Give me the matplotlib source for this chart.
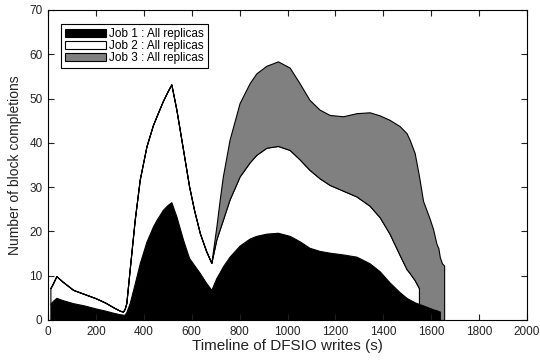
import matplotlib.pyplot as plt
import numpy as np

plt.rcParams['font.family'] = ['Liberation Sans', 'DejaVu Sans']

# timeline (s); repeated x values give the vertical drops at the end of each job
t = [10, 20, 35, 60, 105, 150, 200, 240, 275, 300, 313, 320, 327, 341, 362,
     383, 411, 438, 453, 480, 500, 515, 536, 564, 589, 610, 634, 660, 682,
     703, 717, 730, 758, 800, 842, 870, 912, 960, 1009, 1050, 1092, 1134,
     1176, 1232, 1288, 1343, 1385, 1426, 1468, 1497, 1510, 1531, 1549, 1549,
     1566, 1594, 1608, 1622, 1630, 1636, 1636, 1645, 1654, 1654]

# top of each stacked layer
top_job1 = [3.6, 4.3, 5.0, 4.5, 3.8, 3.3, 2.6, 2.1, 1.6, 1.3, 1.2, 1.2, 1.8,
            3.8, 8.2, 12.8, 17.7, 21.1, 22.6, 24.9, 26.0, 26.6, 23.4, 18.1,
            14.0, 12.4, 10.6, 8.4, 6.8,
            9.5, 10.8, 12.1, 14.3, 16.8, 18.4, 19.0, 19.5, 19.7, 19.0, 17.8,
            16.3, 15.6, 15.2, 14.8, 14.3, 12.8, 11.0, 8.5, 6.3, 5.0, 4.6, 4.0,
            3.6, 3.6, 3.3, 2.7, 2.4, 2.2, 2.0, 1.9, 0, 0, 0, 0]
top_job2 = [7.2, 8.2, 9.9, 8.7, 6.8, 5.9, 4.9, 3.9, 2.8, 2.1, 1.9, 2.5, 3.8,
            11.4, 22.6, 31.7, 39.2, 44.0, 46.0, 49.5, 51.7, 53.2, 47.5, 38.4,
            30.2, 24.8, 19.6, 15.6, 12.9,
            18.2, 20.5, 22.6, 27.2, 32.4, 35.6, 37.3, 38.9, 39.3, 38.4, 36.3,
            33.9, 32.0, 30.5, 29.2, 27.9, 25.8, 23.2, 19.5, 14.7, 11.5, 10.6,
            9.0, 7.2, 3.6, 3.3, 2.7, 2.4, 2.2, 2.0, 1.9, 0, 0, 0, 0]
top_job3 = [7.2, 8.2, 9.9, 8.7, 6.8, 5.9, 4.9, 3.9, 2.8, 2.1, 1.9, 2.5, 3.8,
            11.4, 22.6, 31.7, 39.2, 44.0, 46.0, 49.5, 51.7, 53.2, 47.5, 38.4,
            30.2, 24.8, 19.6, 15.6, 12.9,
            21.1, 27.2, 32.4, 40.7, 49.0, 53.5, 55.7, 57.4, 58.4, 57.0, 53.5,
            49.7, 47.5, 46.3, 46.0, 46.7, 46.9, 46.2, 45.2, 43.8, 42.2, 40.7,
            37.7, 32.5, 32.5, 26.9, 22.8, 20.5, 17.2, 16.2, 14.2, 14.2, 12.8,
            12.3, 0]

labels = ['Job 1 : All replicas', 'Job 2 : All replicas', 'Job 3 : All replicas']

x = np.array(t)
job1 = np.array(top_job1)
job2 = np.array(top_job2) - job1
job3 = np.array(top_job3) - np.array(top_job2)

fig = plt.figure(figsize=(5.4, 3.62), dpi=100)
ax = fig.add_axes([48 / 540, 1 - 320 / 362, 479 / 540, 310 / 362])

ax.stackplot(x, job1, job2, job3, labels=labels,
             colors=['black', 'white', '#808080'],
             edgecolor='black', linewidth=0.8)

ax.set_xlim(0, 2000)
ax.set_ylim(0, 70)
ax.set_xticks(np.arange(0, 2001, 200))
ax.set_yticks(np.arange(0, 71, 10))
ax.tick_params(direction='in', top=True, right=True, length=4, width=0.8,
               labelsize=8.5, colors='#222222', pad=4)
for s in ax.spines.values():
    s.set_linewidth(0.8)

ax.set_xlabel('Timeline of DFSIO writes (s)', fontsize=11, color='#222222', labelpad=1)
ax.set_ylabel('Number of block completions', fontsize=10, color='#222222', labelpad=5)

leg = ax.legend(loc='upper left', bbox_to_anchor=(0.027, 0.955), fontsize=8.5,
                fancybox=False, edgecolor='black', framealpha=1,
                handlelength=3.5, handleheight=0.75, labelspacing=0.0,
                handletextpad=0.25, borderpad=0.35, borderaxespad=0)
leg.get_frame().set_linewidth(0.8)

fig.savefig('out.png', dpi=100)
